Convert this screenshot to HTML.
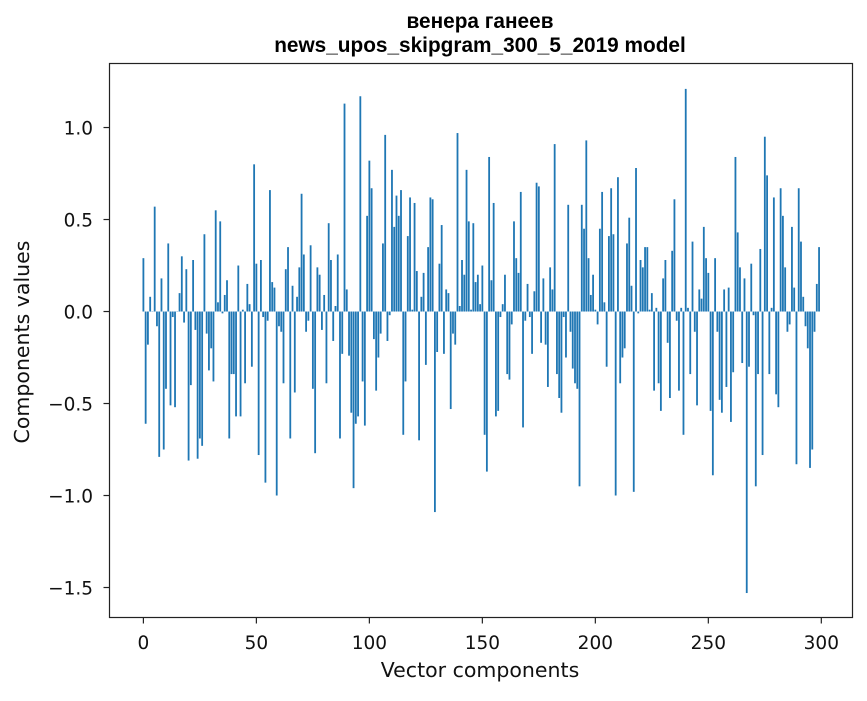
<!DOCTYPE html>
<html><head><meta charset="utf-8"><style>
html,body{margin:0;padding:0;background:#fff;}
svg text{font-family:"DejaVu Sans","Liberation Sans",sans-serif;fill:#111;}
svg text.title{font-family:"Liberation Sans","DejaVu Sans",sans-serif;fill:#000;}
</style></head><body>
<svg id="chart" width="867" height="696" viewBox="0 0 867 696" xmlns="http://www.w3.org/2000/svg">
<rect x="0" y="0" width="867" height="696" fill="#fff"/>
<text class="title" x="480" y="28" text-anchor="middle" font-size="20.8" font-weight="bold">венера ганеев</text>
<text class="title" x="480" y="52" text-anchor="middle" font-size="20.8" font-weight="bold">news_upos_skipgram_300_5_2019 model</text>
<g id="bars"></g>
<rect x="109.5" y="63.5" width="743" height="554" fill="none" stroke="#222" stroke-width="1.2"/>
<g id="xticks"></g>
<g id="yticks"></g>
<text x="480" y="677" text-anchor="middle" font-size="20.5">Vector components</text>
<text transform="translate(29,342) rotate(-90)" text-anchor="middle" font-size="20.5">Components values</text>
</svg>
<script>
const values = [
0.29,-0.61,-0.18,0.08,0.0,0.57,-0.08,-0.79,0.18,-0.75,
-0.42,0.37,-0.51,-0.03,-0.52,0.0,0.10,0.30,-0.06,0.23,
-0.81,-0.40,0.28,-0.10,-0.80,-0.69,-0.73,0.42,-0.12,-0.32,
-0.20,-0.38,0.55,0.05,0.49,-0.01,0.09,0.17,-0.69,-0.34,
-0.34,-0.57,0.25,-0.57,0.01,-0.39,0.15,0.04,-0.30,0.80,
0.26,-0.78,0.28,-0.03,-0.93,-0.05,0.66,0.16,0.13,-1.00,
-0.08,-0.11,-0.39,0.23,0.35,-0.69,0.14,-0.44,0.08,0.24,
0.64,0.31,-0.11,-0.05,0.36,-0.42,-0.77,0.24,0.20,-0.10,
0.09,-0.39,0.48,0.28,-0.16,0.03,0.31,-0.69,-0.23,1.13,
0.12,-0.24,-0.55,-0.96,-0.61,-0.57,1.17,-0.38,-0.62,0.52,
0.82,0.67,-0.15,-0.43,-0.25,-0.12,0.37,0.96,-0.16,-0.02,
0.77,0.46,0.63,0.52,0.66,-0.67,-0.38,0.41,0.62,0.01,
0.59,0.22,-0.70,0.08,0.21,-0.29,0.35,0.62,0.61,-1.09,
-0.22,0.26,0.47,-0.23,0.12,0.10,-0.53,-0.12,-0.18,0.97,
0.03,0.28,0.20,0.77,0.49,0.01,0.48,0.16,0.20,0.04,
0.25,-0.67,-0.87,0.84,0.17,0.59,-0.57,-0.54,-0.03,0.04,
0.20,-0.34,-0.37,-0.07,0.49,0.29,0.21,0.65,-0.63,-0.05,
0.15,-0.03,-0.23,0.11,0.70,0.68,-0.17,0.18,-0.18,-0.41,
0.24,0.12,0.91,-0.34,-0.47,-0.55,-0.03,-0.25,0.58,-0.11,
-0.31,-0.39,-0.42,-0.95,0.58,0.45,0.93,0.29,0.09,0.20,
0.01,-0.07,0.45,0.65,0.05,-0.30,0.41,0.67,0.42,-1.00,
0.73,-0.39,-0.25,-0.20,0.37,0.51,0.14,-0.98,0.78,-0.01,
0.28,0.24,0.35,0.35,0.01,0.10,-0.43,0.02,-0.39,-0.54,
0.18,0.28,-0.17,-0.47,0.33,0.61,-0.05,-0.43,0.02,-0.67,
1.21,0.02,-0.34,0.38,-0.11,-0.51,0.12,0.07,0.46,0.29,
0.21,-0.54,-0.89,0.29,-0.11,-0.48,-0.55,0.12,-0.41,0.13,
-0.60,-0.33,0.84,0.43,0.24,-0.28,0.18,-1.53,-0.30,0.26,
-0.02,-0.95,-0.34,0.34,-0.78,0.95,0.74,-0.34,0.02,0.62,
-0.45,-0.52,0.67,0.52,0.24,-0.11,-0.07,0.46,0.13,-0.83,
0.67,0.38,0.08,-0.08,-0.20,-0.85,-0.75,-0.11,0.15,0.35
];
const xTicks = [0,50,100,150,200,250,300];
const yTicks = [-1.5,-1.0,-0.5,0.0,0.5,1.0];
const yTickLabels = ["\u22121.5","\u22121.0","\u22120.5","0.0","0.5","1.0"];

const NS="http://www.w3.org/2000/svg";
const X0=109.5,X1=852.5,Y0=63.5,Y1=617.5;
const xMin=-15.0,xMax=313.8,yMin=-1.663,yMax=1.348;
const xs=v=>X0+(v-xMin)/(xMax-xMin)*(X1-X0);
const ys=v=>Y1-(v-yMin)/(yMax-yMin)*(Y1-Y0);
const bars=document.getElementById('bars');
values.forEach((v,i)=>{
  const r=document.createElementNS(NS,'rect');
  const a=xs(i-0.4),b=xs(i+0.4);
  const y=Math.min(ys(v),ys(0)),h=Math.abs(ys(v)-ys(0));
  r.setAttribute('x',a);r.setAttribute('width',b-a);
  r.setAttribute('y',y);r.setAttribute('height',Math.max(h,0.3));
  r.setAttribute('fill','#1f77b4');
  
  
  bars.appendChild(r);
});
const xg=document.getElementById('xticks');
xTicks.forEach(t=>{
  const x=xs(t);
  const l=document.createElementNS(NS,'line');
  l.setAttribute('x1',x);l.setAttribute('x2',x);l.setAttribute('y1',Y1);l.setAttribute('y2',Y1+6);
  l.setAttribute('stroke','#222');l.setAttribute('stroke-width','1.2');
  
  
  xg.appendChild(l);
  const tx=document.createElementNS(NS,'text');
  tx.setAttribute('x',x);tx.setAttribute('y',649);tx.setAttribute('text-anchor','middle');tx.setAttribute('font-size','18.5');
  tx.textContent=t;
  
  
  xg.appendChild(tx);
});
const yg=document.getElementById('yticks');
yTicks.forEach((t,k)=>{
  const y=ys(t);
  const l=document.createElementNS(NS,'line');
  l.setAttribute('x1',X0-6);l.setAttribute('x2',X0);l.setAttribute('y1',y);l.setAttribute('y2',y);
  l.setAttribute('stroke','#222');l.setAttribute('stroke-width','1.2');
  
  
  yg.appendChild(l);
  const tx=document.createElementNS(NS,'text');
  tx.setAttribute('x',93);tx.setAttribute('y',y+7);tx.setAttribute('text-anchor','end');tx.setAttribute('font-size','18.5');
  tx.textContent=yTickLabels[k];
  
  
  yg.appendChild(tx);
});
</script>
</body></html>
